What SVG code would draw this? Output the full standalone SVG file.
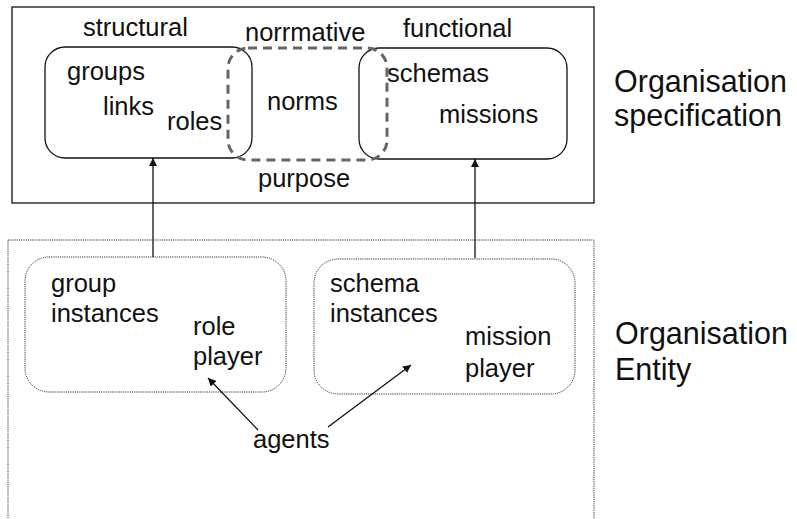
<svg xmlns="http://www.w3.org/2000/svg" width="797" height="519" viewBox="0 0 797 519">
  <style>
    text { font-family: "Liberation Sans", Arial, sans-serif; fill: #111; }
    .t { font-size: 25.5px; }
    .big { font-size: 30.5px; }
    .solid { fill: none; stroke: #111; stroke-width: 1.3; }
    .dotted { fill: none; stroke: #333; stroke-width: 1; stroke-dasharray: 1.2 1; }
    .dashed { fill: none; stroke: #666; stroke-width: 3; stroke-dasharray: 9 6; }
    .link { fill: none; stroke: #111; stroke-width: 1.3; }
  </style>
  <defs>
    <marker id="arrow" viewBox="0 0 10 10" refX="10" refY="5" markerWidth="8" markerHeight="8" markerUnits="userSpaceOnUse" orient="auto">
      <path d="M0,0 L10,5 L0,10 Z" fill="#111"/>
    </marker>
  </defs>
  <rect width="797" height="519" fill="#fff"/>

  <!-- Organisation specification -->
  <g id="org-spec">
    <rect class="solid" x="12" y="7" width="582" height="196"/>
    <text class="t" x="83" y="36">structural</text>
    <text class="t" x="245" y="41">norrmative</text>
    <text class="t" x="403" y="37">functional</text>
    <text class="t" x="258" y="187">purpose</text>
  </g>
  <g id="structural">
    <rect class="solid" x="45" y="47" width="207" height="111" rx="20"/>
    <text class="t" x="67" y="80">groups</text>
    <text class="t" x="103" y="115">links</text>
    <text class="t" x="167" y="130">roles</text>
  </g>
  <g id="functional">
    <rect class="solid" x="359" y="48" width="208" height="111" rx="20"/>
    <text class="t" x="387" y="82">schemas</text>
    <text class="t" x="439" y="123">missions</text>
  </g>
  <g id="normative">
    <rect class="dashed" x="228" y="48" width="159" height="112" rx="20"/>
    <text class="t" x="267" y="110">norms</text>
  </g>
  <g id="label-spec">
    <text class="big" x="614" y="92">Organisation</text>
    <text class="big" x="614" y="126">specification</text>
  </g>

  <!-- Organisation entity (its lower edge runs past the bottom of the view) -->
  <g id="org-entity">
    <rect class="dotted" x="8" y="240" width="586" height="300"/>
  </g>
  <g id="group-instances">
    <rect class="dotted" x="25" y="257" width="261" height="135" rx="24"/>
    <text class="t" x="51" y="292">group</text>
    <text class="t" x="51" y="322">instances</text>
    <text class="t" x="193" y="335">role</text>
    <text class="t" x="193" y="365">player</text>
  </g>
  <g id="schema-instances">
    <rect class="dotted" x="314" y="259" width="261" height="135" rx="24"/>
    <text class="t" x="330" y="292">schema</text>
    <text class="t" x="330" y="322">instances</text>
    <text class="t" x="465" y="345">mission</text>
    <text class="t" x="465" y="377">player</text>
  </g>
  <g id="agents">
    <text class="t" x="253" y="448">agents</text>
  </g>
  <g id="label-entity">
    <text class="big" x="615" y="344">Organisation</text>
    <text class="big" x="615" y="380">Entity</text>
  </g>

  <!-- connectors -->
  <g id="connectors">
    <line class="link" x1="153" y1="257" x2="153" y2="158" marker-end="url(#arrow)"/>
    <line class="link" x1="475" y1="258" x2="475" y2="159" marker-end="url(#arrow)"/>
    <line class="link" x1="258" y1="430" x2="208" y2="378" marker-end="url(#arrow)"/>
    <line class="link" x1="328" y1="427" x2="411" y2="365" marker-end="url(#arrow)"/>
  </g>
</svg>
